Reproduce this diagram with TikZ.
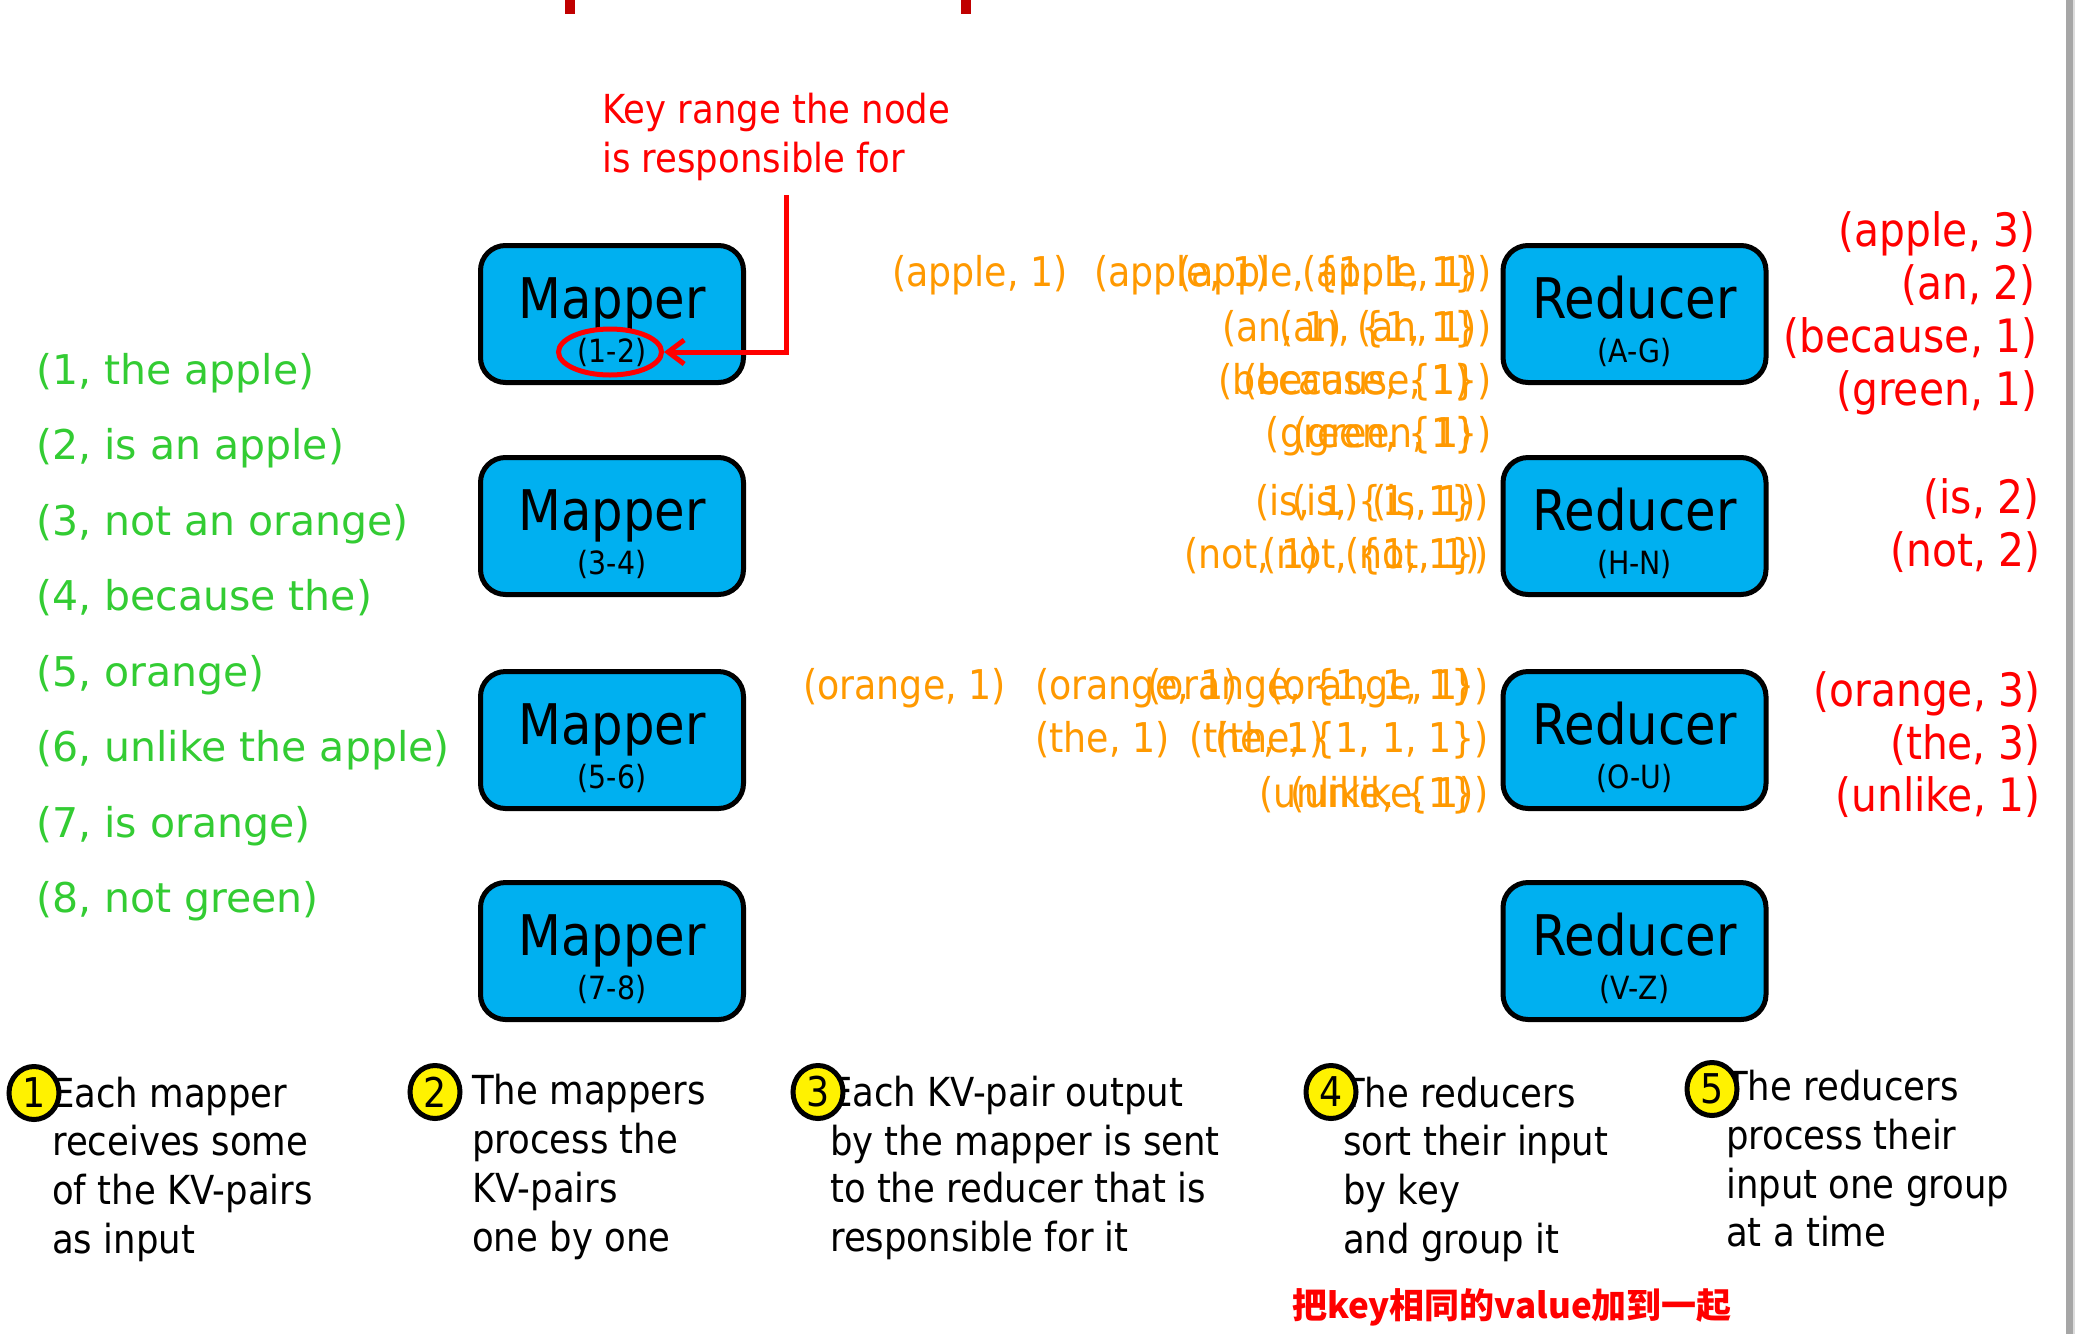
\documentclass[tikz,border=0pt]{standalone}
\usepackage{fontspec}
\setmainfont{DejaVu Sans}[FakeStretch=0.887]
\newfontfamily\verd{DejaVu Sans}
\newfontfamily\cjk{Noto Sans CJK SC}
\usetikzlibrary{shapes.geometric,arrows.meta}
\definecolor{boxcyan}{RGB}{0,176,240}
\definecolor{kvgreen}{RGB}{51,204,51}
\definecolor{kvorange}{RGB}{255,153,0}
\definecolor{kvred}{RGB}{255,0,0}
\definecolor{tickred}{RGB}{192,0,0}
\definecolor{bargray}{RGB}{166,166,166}
\definecolor{barlight}{RGB}{220,220,220}
\newcommand\pxsize[1]{\fontsize{#1}{#1}\selectfont}
\tikzset{
  boxnode/.style={draw=black, line width=5pt, fill=boxcyan, rounded corners=25pt,
    minimum width=263pt, minimum height=137pt, inner sep=0pt},
  bigtxt/.style={inner sep=0pt, anchor=base, font=\pxsize{56}},
  smalltxt/.style={inner sep=0pt, anchor=base, font=\pxsize{32}},
  greentxt/.style={inner sep=0pt, anchor=base west, text=kvgreen, font=\verd\pxsize{41}},
  orw/.style={inner sep=0pt, anchor=base west, text=kvorange, font=\pxsize{41}},
  ore/.style={inner sep=0pt, anchor=base east, text=kvorange, font=\pxsize{41}},
  redout/.style={inner sep=0pt, anchor=base east, text=kvred, font=\pxsize{46}},
  keytxt/.style={inner sep=0pt, anchor=base west, text=kvred, font=\pxsize{40}},
  desc/.style={inner sep=0pt, anchor=base west, font=\pxsize{40}},
  numcirc/.style={ellipse, draw=black, line width=5pt, fill=yellow, minimum width=50pt,
    minimum height=53pt, inner sep=0pt, font=\pxsize{41}},
  keyarrow/.style={draw=kvred, line width=5pt, -{Straight Barb[length=16pt,width=24pt]}},
}
\begin{document}
\begin{tikzpicture}[x=1pt,y=-1pt]
\useasboundingbox[fill=white] (0,0) rectangle (2075,1334);
% top marks and right bar
\fill[tickred] (565,0) rectangle (575,14);
\fill[tickred] (961,0) rectangle (971,14);
\fill[bargray] (2066,0) rectangle (2073,1334);
\fill[barlight] (2073,0) rectangle (2075,1334);

% green input pairs
\node[greentxt] (g1) at (36,384) {(1, the apple)};
\node[greentxt] (g2) at (36,459.6) {(2, is an apple)};
\node[greentxt] (g3) at (36,535.1) {(3, not an orange)};
\node[greentxt] (g4) at (36,610.7) {(4, because the)};
\node[greentxt] (g5) at (36,686.2) {(5, orange)};
\node[greentxt] (g6) at (36,761.8) {(6, unlike the apple)};
\node[greentxt] (g7) at (36,837.3) {(7, is orange)};
\node[greentxt] (g8) at (36,912.9) {(8, not green)};

% mappers
\foreach \i/\y/\r in {1/314/1-2, 2/526/3-4, 3/740/5-6, 4/951/7-8}{
  \node[boxnode] (m\i) at (612,\y) {};
  \node[bigtxt] (mt\i) at ([yshift=-4pt]m\i.center) {Mapper};
  \node[smalltxt] (mr\i) at ([yshift=-48pt]m\i.center) {(\r)};
}
% reducers
\foreach \i/\y/\r in {1/314/A-G, 2/526/H-N, 3/740/O-U, 4/951/V-Z}{
  \node[boxnode] (r\i) at (1634.5,\y) {};
  \node[bigtxt] (rt\i) at ([yshift=-4pt]r\i.center) {Reducer};
  \node[smalltxt] (rr\i) at ([yshift=-48pt]r\i.center) {(\r)};
}

% key range annotation
\node[keytxt] (k1) at (602,123) {Key range the node};
\node[keytxt] (k2) at (602,172) {is responsible for};
\node[ellipse, draw=kvred, line width=5pt, minimum width=103pt, minimum height=46pt, inner sep=0pt] (ell) at (610,352) {};
\coordinate (kt) at (786,195);
\draw[keyarrow] (kt) |- (ell.east);

% orange intermediate pairs
\node[orw] (o1a) at (892,286) {(apple, 1)};
\node[orw] (o1b) at (1094,286) {(apple, 1)};
\node[orw] (o1c) at (1302,286) {(apple, 1)};
\node[ore] (o1d) at (1492,286) {(apple, \{1, 1, 1\})};
\node[orw] (o2a) at (1222,341) {(an, 1)};
\node[orw] (o2b) at (1357,341) {(an, 1)};
\node[ore] (o2c) at (1492,341) {(an, \{1, 1\})};
\node[orw] (o3a) at (1243,394) {(because, 1)};
\node[ore] (o3b) at (1492,394) {(because, \{1\})};
\node[orw] (o4a) at (1293,447) {(green, 1)};
\node[ore] (o4b) at (1492,447) {(green, \{1\})};
\node[orw] (o5a) at (1255,515.5) {(is, 1)};
\node[orw] (o5b) at (1372,515.5) {(is, 1)};
\node[ore] (o5c) at (1489,515.5) {(is, \{1, 1\})};
\node[orw] (o6a) at (1184,568.4) {(not, 1)};
\node[orw] (o6b) at (1345,568.4) {(not, 1)};
\node[ore] (o6c) at (1489,568.4) {(not, \{1, 1\})};
\node[orw] (o7a) at (803,699) {(orange, 1)};
\node[orw] (o7b) at (1035,699) {(orange, 1)};
\node[orw] (o7c) at (1269,699) {(orange, 1)};
\node[ore] (o7d) at (1489,699) {(orange, \{1, 1, 1\})};
\node[orw] (o8a) at (1035,752) {(the, 1)};
\node[orw] (o8b) at (1189,752) {(the, 1)};
\node[ore] (o8c) at (1489,752) {(the, \{1, 1, 1\})};
\node[orw] (o9a) at (1290,807) {(unlike, 1)};
\node[ore] (o9b) at (1489,807) {(unlike, \{1\})};

% red reduced outputs
\node[redout] (p1) at (2036,246) {(apple, 3)};
\node[redout] (p2) at (2036,299) {(an, 2)};
\node[redout] (p3) at (2038,352) {(because, 1)};
\node[redout] (p4) at (2038,405) {(green, 1)};
\node[redout] (p5) at (2040,513.5) {(is, 2)};
\node[redout] (p6) at (2041,566.5) {(not, 2)};
\node[redout] (p7) at (2041,706.7) {(orange, 3)};
\node[redout] (p8) at (2041,759.7) {(the, 3)};
\node[redout] (p9) at (2041,811.3) {(unlike, 1)};

% bottom descriptions
\node[desc] (d1a) at (52,1107) {Each mapper};
\node[desc] (d1b) at (52,1155) {receives some};
\node[desc] (d1c) at (52,1204) {of the KV-pairs};
\node[desc] (d1d) at (52,1253) {as input};
\node[desc] (d2a) at (472,1104) {The mappers};
\node[desc] (d2b) at (472,1153) {process the};
\node[desc] (d2c) at (472,1202) {KV-pairs};
\node[desc] (d2d) at (472,1251) {one by one};
\node[desc] (d3a) at (830,1106) {Each KV-pair output};
\node[desc] (d3b) at (830,1155) {by the mapper is sent};
\node[desc] (d3c) at (830,1202) {to the reducer that is};
\node[desc] (d3d) at (830,1251) {responsible for it};
\node[desc] (d4a) at (1343,1107) {The reducers};
\node[desc] (d4b) at (1343,1155) {sort their input};
\node[desc] (d4c) at (1343,1204) {by key};
\node[desc] (d4d) at (1343,1253) {and group it};
\node[desc] (d5a) at (1726,1100) {The reducers};
\node[desc] (d5b) at (1726,1149) {process their};
\node[desc] (d5c) at (1726,1198) {input one group};
\node[desc] (d5d) at (1726,1246) {at a time};

% numbered circles
\node[numcirc] (c1) at (34,1093) {1};
\node[numcirc] (c2) at (435,1092) {2};
\node[numcirc] (c3) at (818,1092) {3};
\node[numcirc] (c4) at (1331,1092) {4};
\node[numcirc] (c5) at (1712,1089) {5};

% chinese note
\node[inner sep=0pt, text=kvred, font=\cjk\bfseries\pxsize{35}] (cn) at (1512,1307) {把key相同的value加到一起};
\end{tikzpicture}
\end{document}
